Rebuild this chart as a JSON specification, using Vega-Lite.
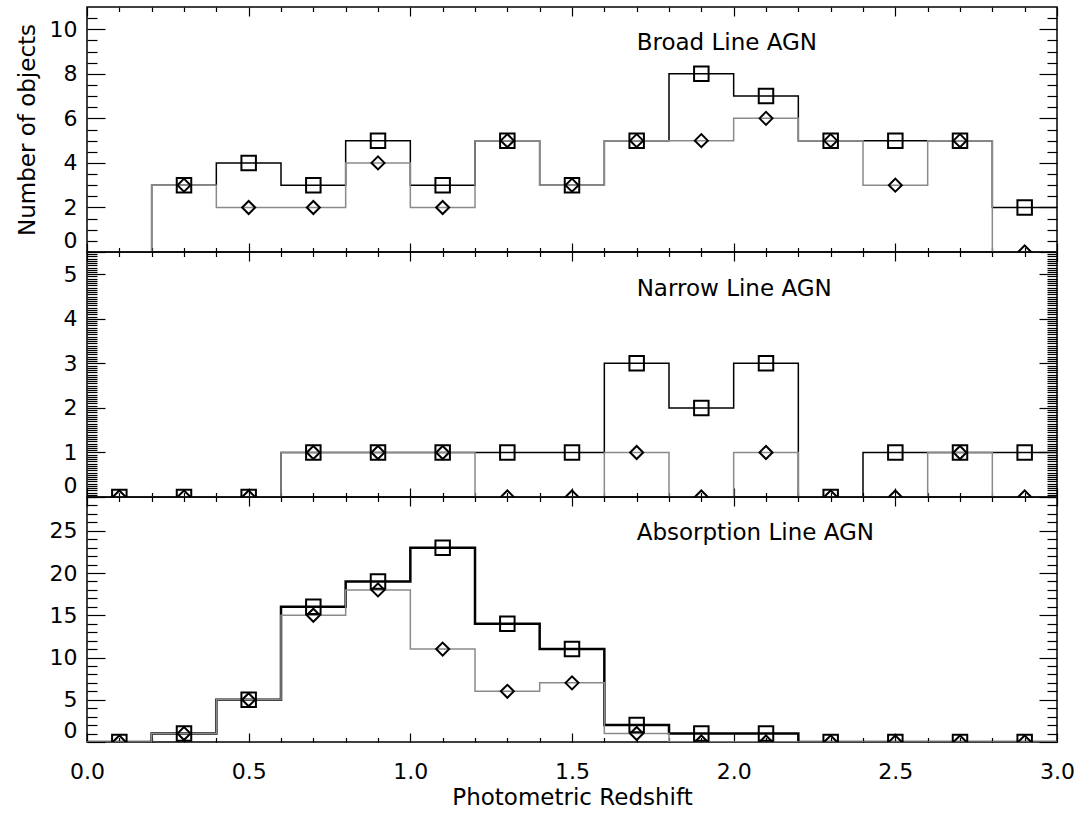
{
  "$schema": "https://vega.github.io/schema/vega-lite/v6.json",
  "padding": {"left": 15, "top": 5, "right": 10, "bottom": 2},
  "background": "white",
  "config": {
    "view": {"stroke": "black", "strokeWidth": 1.5},
    "axis": {
      "grid": false, "domain": false, "tickColor": "black", "tickWidth": 1.2,
      "labelFont": "DejaVu Sans", "labelFontSize": 22, "labelFontWeight": 400, "labelColor": "black",
      "titleFont": "DejaVu Sans", "titleFontSize": 23, "titleFontWeight": 400, "titleColor": "black",
      "labelOverlap": false
    }
  },
  "datasets": {
    "broad": [
      {"lo": 0.0, "hi": 0.2, "z": 0.1, "all": 0, "sub": 0},
      {"lo": 0.2, "hi": 0.4, "z": 0.3, "all": 3, "sub": 3},
      {"lo": 0.4, "hi": 0.6, "z": 0.5, "all": 4, "sub": 2},
      {"lo": 0.6, "hi": 0.8, "z": 0.7, "all": 3, "sub": 2},
      {"lo": 0.8, "hi": 1.0, "z": 0.9, "all": 5, "sub": 4},
      {"lo": 1.0, "hi": 1.2, "z": 1.1, "all": 3, "sub": 2},
      {"lo": 1.2, "hi": 1.4, "z": 1.3, "all": 5, "sub": 5},
      {"lo": 1.4, "hi": 1.6, "z": 1.5, "all": 3, "sub": 3},
      {"lo": 1.6, "hi": 1.8, "z": 1.7, "all": 5, "sub": 5},
      {"lo": 1.8, "hi": 2.0, "z": 1.9, "all": 8, "sub": 5},
      {"lo": 2.0, "hi": 2.2, "z": 2.1, "all": 7, "sub": 6},
      {"lo": 2.2, "hi": 2.4, "z": 2.3, "all": 5, "sub": 5},
      {"lo": 2.4, "hi": 2.6, "z": 2.5, "all": 5, "sub": 3},
      {"lo": 2.6, "hi": 2.8, "z": 2.7, "all": 5, "sub": 5},
      {"lo": 2.8, "hi": 3.0, "z": 2.9, "all": 2, "sub": 0}
    ],
    "narrow": [
      {"lo": 0.0, "hi": 0.2, "z": 0.1, "all": 0, "sub": 0},
      {"lo": 0.2, "hi": 0.4, "z": 0.3, "all": 0, "sub": 0},
      {"lo": 0.4, "hi": 0.6, "z": 0.5, "all": 0, "sub": 0},
      {"lo": 0.6, "hi": 0.8, "z": 0.7, "all": 1, "sub": 1},
      {"lo": 0.8, "hi": 1.0, "z": 0.9, "all": 1, "sub": 1},
      {"lo": 1.0, "hi": 1.2, "z": 1.1, "all": 1, "sub": 1},
      {"lo": 1.2, "hi": 1.4, "z": 1.3, "all": 1, "sub": 0},
      {"lo": 1.4, "hi": 1.6, "z": 1.5, "all": 1, "sub": 0},
      {"lo": 1.6, "hi": 1.8, "z": 1.7, "all": 3, "sub": 1},
      {"lo": 1.8, "hi": 2.0, "z": 1.9, "all": 2, "sub": 0},
      {"lo": 2.0, "hi": 2.2, "z": 2.1, "all": 3, "sub": 1},
      {"lo": 2.2, "hi": 2.4, "z": 2.3, "all": 0, "sub": 0},
      {"lo": 2.4, "hi": 2.6, "z": 2.5, "all": 1, "sub": 0},
      {"lo": 2.6, "hi": 2.8, "z": 2.7, "all": 1, "sub": 1},
      {"lo": 2.8, "hi": 3.0, "z": 2.9, "all": 1, "sub": 0}
    ],
    "absorption": [
      {"lo": 0.0, "hi": 0.2, "z": 0.1, "all": 0, "sub": 0},
      {"lo": 0.2, "hi": 0.4, "z": 0.3, "all": 1, "sub": 1},
      {"lo": 0.4, "hi": 0.6, "z": 0.5, "all": 5, "sub": 5},
      {"lo": 0.6, "hi": 0.8, "z": 0.7, "all": 16, "sub": 15},
      {"lo": 0.8, "hi": 1.0, "z": 0.9, "all": 19, "sub": 18},
      {"lo": 1.0, "hi": 1.2, "z": 1.1, "all": 23, "sub": 11},
      {"lo": 1.2, "hi": 1.4, "z": 1.3, "all": 14, "sub": 6},
      {"lo": 1.4, "hi": 1.6, "z": 1.5, "all": 11, "sub": 7},
      {"lo": 1.6, "hi": 1.8, "z": 1.7, "all": 2, "sub": 1},
      {"lo": 1.8, "hi": 2.0, "z": 1.9, "all": 1, "sub": 0},
      {"lo": 2.0, "hi": 2.2, "z": 2.1, "all": 1, "sub": 0},
      {"lo": 2.2, "hi": 2.4, "z": 2.3, "all": 0, "sub": 0},
      {"lo": 2.4, "hi": 2.6, "z": 2.5, "all": 0, "sub": 0},
      {"lo": 2.6, "hi": 2.8, "z": 2.7, "all": 0, "sub": 0},
      {"lo": 2.8, "hi": 3.0, "z": 2.9, "all": 0, "sub": 0}
    ]
  },
  "spacing": 0,
  "bounds": "flush",
  "vconcat": [
    {
      "width": 970, "height": 245,
      "data": {"name": "broad"},
      "resolve": {"axis": {"x": "independent", "y": "independent"}},
      "layer": [
        {
          "transform": [{"fold": ["lo", "hi"], "as": ["edge", "zx"]}],
          "mark": {"type": "line", "color": "black", "strokeWidth": 1.5, "clip": true},
          "encoding": {
            "x": {"field": "zx", "type": "quantitative", "scale": {"domain": [0, 3], "nice": false},
                  "axis": {"orient": "bottom", "values": [0, 0.5, 1, 1.5, 2, 2.5, 3], "tickSize": -9, "labels": false, "title": null}},
            "y": {"field": "all", "type": "quantitative", "scale": {"domain": [0, 11], "nice": false, "zero": false},
                  "axis": {"orient": "left", "values": [0, 2, 4, 6, 8, 10], "tickSize": -18, "labelPadding": 28, "labelFlush": 1, "title": "Number of objects", "titlePadding": 10}},
            "order": [{"field": "zx", "type": "quantitative"}, {"field": "edge", "type": "nominal"}]
          }
        },
        {
          "transform": [{"fold": ["lo", "hi"], "as": ["edge", "zx"]}],
          "mark": {"type": "line", "color": "#8a8a8a", "strokeWidth": 1.5, "clip": true},
          "encoding": {
            "x": {"field": "zx", "type": "quantitative",
                  "axis": {"orient": "top", "values": [0, 0.5, 1, 1.5, 2, 2.5, 3], "tickSize": -9, "labels": false, "title": null}},
            "y": {"field": "sub", "type": "quantitative",
                  "axis": {"orient": "right", "values": [0, 2, 4, 6, 8, 10], "tickSize": -18, "labels": false, "title": null}},
            "order": [{"field": "zx", "type": "quantitative"}, {"field": "edge", "type": "nominal"}]
          }
        },
        {
          "transform": [{"filter": "datum.z > 0.2"}],
          "mark": {"type": "point", "shape": "diamond", "size": 170, "filled": false, "color": "black", "strokeWidth": 2, "clip": true, "opacity": 1},
          "encoding": {
            "x": {"field": "z", "type": "quantitative",
                  "axis": {"orient": "bottom", "values": [0.1,0.2,0.3,0.4,0.6,0.7,0.8,0.9,1.1,1.2,1.3,1.4,1.6,1.7,1.8,1.9,2.1,2.2,2.3,2.4,2.6,2.7,2.8,2.9], "tickSize": -4.5, "labels": false, "title": null}},
            "y": {"field": "sub", "type": "quantitative",
                  "axis": {"orient": "left", "values": [0.5,1,1.5,2.5,3,3.5,4.5,5,5.5,6.5,7,7.5,8.5,9,9.5,10.5], "tickSize": -10, "labels": false, "title": null}}
          }
        },
        {
          "transform": [{"filter": "datum.z > 0.2"}],
          "mark": {"type": "point", "shape": "square", "size": 210, "filled": false, "color": "black", "strokeWidth": 2, "clip": true, "opacity": 1},
          "encoding": {
            "x": {"field": "z", "type": "quantitative",
                  "axis": {"orient": "top", "values": [0.1,0.2,0.3,0.4,0.6,0.7,0.8,0.9,1.1,1.2,1.3,1.4,1.6,1.7,1.8,1.9,2.1,2.2,2.3,2.4,2.6,2.7,2.8,2.9], "tickSize": -4.5, "labels": false, "title": null}},
            "y": {"field": "all", "type": "quantitative",
                  "axis": {"orient": "right", "values": [0.5,1,1.5,2.5,3,3.5,4.5,5,5.5,6.5,7,7.5,8.5,9,9.5,10.5], "tickSize": -10, "labels": false, "title": null}}
          }
        },
        {
          "data": {"values": [{"label": "Broad Line AGN"}]},
          "mark": {"type": "text", "align": "left", "baseline": "middle", "font": "DejaVu Sans", "fontSize": 23, "fontWeight": 400, "color": "black"},
          "encoding": {
            "x": {"datum": 1.70, "type": "quantitative", "axis": null},
            "y": {"datum": 9.4, "type": "quantitative", "axis": null},
            "text": {"field": "label"}
          }
        }
      ]
    },
    {
      "width": 970, "height": 245,
      "data": {"name": "narrow"},
      "resolve": {"axis": {"x": "independent", "y": "independent"}},
      "layer": [
        {
          "transform": [{"fold": ["lo", "hi"], "as": ["edge", "zx"]}],
          "mark": {"type": "line", "color": "black", "strokeWidth": 1.5, "clip": true},
          "encoding": {
            "x": {"field": "zx", "type": "quantitative", "scale": {"domain": [0, 3], "nice": false},
                  "axis": {"orient": "bottom", "values": [0, 0.5, 1, 1.5, 2, 2.5, 3], "tickSize": -9, "labels": false, "title": null}},
            "y": {"field": "all", "type": "quantitative", "scale": {"domain": [0, 5.5], "nice": false, "zero": false},
                  "axis": {"orient": "left", "values": [0, 1, 2, 3, 4, 5], "tickSize": -18, "labelPadding": 28, "labelFlush": 1, "title": null}},
            "order": [{"field": "zx", "type": "quantitative"}, {"field": "edge", "type": "nominal"}]
          }
        },
        {
          "transform": [{"fold": ["lo", "hi"], "as": ["edge", "zx"]}],
          "mark": {"type": "line", "color": "#8a8a8a", "strokeWidth": 1.5, "clip": true},
          "encoding": {
            "x": {"field": "zx", "type": "quantitative",
                  "axis": {"orient": "top", "values": [0, 0.5, 1, 1.5, 2, 2.5, 3], "tickSize": -9, "labels": false, "title": null}},
            "y": {"field": "sub", "type": "quantitative",
                  "axis": {"orient": "right", "values": [0, 1, 2, 3, 4, 5], "tickSize": -18, "labels": false, "title": null}},
            "order": [{"field": "zx", "type": "quantitative"}, {"field": "edge", "type": "nominal"}]
          }
        },
        {
          "mark": {"type": "point", "shape": "diamond", "size": 170, "filled": false, "color": "black", "strokeWidth": 2, "clip": true, "opacity": 1},
          "encoding": {
            "x": {"field": "z", "type": "quantitative",
                  "axis": {"orient": "bottom", "values": [0.1,0.2,0.3,0.4,0.6,0.7,0.8,0.9,1.1,1.2,1.3,1.4,1.6,1.7,1.8,1.9,2.1,2.2,2.3,2.4,2.6,2.7,2.8,2.9], "tickSize": -4.5, "labels": false, "title": null}},
            "y": {"field": "sub", "type": "quantitative",
                  "axis": {"orient": "left", "values": [0.05,0.1,0.15,0.2,0.25,0.3,0.35,0.4,0.45,0.5,0.55,0.6,0.65,0.7,0.75,0.8,0.85,0.9,0.95,1.05,1.1,1.15,1.2,1.25,1.3,1.35,1.4,1.45,1.5,1.55,1.6,1.65,1.7,1.75,1.8,1.85,1.9,1.95,2.05,2.1,2.15,2.2,2.25,2.3,2.35,2.4,2.45,2.5,2.55,2.6,2.65,2.7,2.75,2.8,2.85,2.9,2.95,3.05,3.1,3.15,3.2,3.25,3.3,3.35,3.4,3.45,3.5,3.55,3.6,3.65,3.7,3.75,3.8,3.85,3.9,3.95,4.05,4.1,4.15,4.2,4.25,4.3,4.35,4.4,4.45,4.5,4.55,4.6,4.65,4.7,4.75,4.8,4.85,4.9,4.95,5.05,5.1,5.15,5.2,5.25,5.3,5.35,5.4,5.45], "tickSize": -10, "labels": false, "title": null}}
          }
        },
        {
          "mark": {"type": "point", "shape": "square", "size": 210, "filled": false, "color": "black", "strokeWidth": 2, "clip": true, "opacity": 1},
          "encoding": {
            "x": {"field": "z", "type": "quantitative",
                  "axis": {"orient": "top", "values": [0.1,0.2,0.3,0.4,0.6,0.7,0.8,0.9,1.1,1.2,1.3,1.4,1.6,1.7,1.8,1.9,2.1,2.2,2.3,2.4,2.6,2.7,2.8,2.9], "tickSize": -4.5, "labels": false, "title": null}},
            "y": {"field": "all", "type": "quantitative",
                  "axis": {"orient": "right", "values": [0.05,0.1,0.15,0.2,0.25,0.3,0.35,0.4,0.45,0.5,0.55,0.6,0.65,0.7,0.75,0.8,0.85,0.9,0.95,1.05,1.1,1.15,1.2,1.25,1.3,1.35,1.4,1.45,1.5,1.55,1.6,1.65,1.7,1.75,1.8,1.85,1.9,1.95,2.05,2.1,2.15,2.2,2.25,2.3,2.35,2.4,2.45,2.5,2.55,2.6,2.65,2.7,2.75,2.8,2.85,2.9,2.95,3.05,3.1,3.15,3.2,3.25,3.3,3.35,3.4,3.45,3.5,3.55,3.6,3.65,3.7,3.75,3.8,3.85,3.9,3.95,4.05,4.1,4.15,4.2,4.25,4.3,4.35,4.4,4.45,4.5,4.55,4.6,4.65,4.7,4.75,4.8,4.85,4.9,4.95,5.05,5.1,5.15,5.2,5.25,5.3,5.35,5.4,5.45], "tickSize": -10, "labels": false, "title": null}}
          }
        },
        {
          "data": {"values": [{"label": "Narrow Line AGN"}]},
          "mark": {"type": "text", "align": "left", "baseline": "middle", "font": "DejaVu Sans", "fontSize": 23, "fontWeight": 400, "color": "black"},
          "encoding": {
            "x": {"datum": 1.70, "type": "quantitative", "axis": null},
            "y": {"datum": 4.68, "type": "quantitative", "axis": null},
            "text": {"field": "label"}
          }
        }
      ]
    },
    {
      "width": 970, "height": 245,
      "data": {"name": "absorption"},
      "resolve": {"axis": {"x": "independent", "y": "independent"}},
      "layer": [
        {
          "transform": [{"fold": ["lo", "hi"], "as": ["edge", "zx"]}],
          "mark": {"type": "line", "color": "black", "strokeWidth": 2.5, "clip": true},
          "encoding": {
            "x": {"field": "zx", "type": "quantitative", "scale": {"domain": [0, 3], "nice": false},
                  "axis": {"orient": "bottom", "values": [0, 0.5, 1, 1.5, 2, 2.5, 3], "tickSize": -9, "labels": true, "labelPadding": 28, "labelFlush": false, "format": ".1f", "title": "Photometric Redshift", "titlePadding": 4}},
            "y": {"field": "all", "type": "quantitative", "scale": {"domain": [0, 29], "nice": false, "zero": false},
                  "axis": {"orient": "left", "values": [0, 5, 10, 15, 20, 25], "tickSize": -18, "labelPadding": 28, "labelFlush": 1, "title": null}},
            "order": [{"field": "zx", "type": "quantitative"}, {"field": "edge", "type": "nominal"}]
          }
        },
        {
          "transform": [{"fold": ["lo", "hi"], "as": ["edge", "zx"]}],
          "mark": {"type": "line", "color": "#8a8a8a", "strokeWidth": 1.5, "clip": true},
          "encoding": {
            "x": {"field": "zx", "type": "quantitative",
                  "axis": {"orient": "top", "values": [0, 0.5, 1, 1.5, 2, 2.5, 3], "tickSize": -9, "labels": false, "title": null}},
            "y": {"field": "sub", "type": "quantitative",
                  "axis": {"orient": "right", "values": [0, 5, 10, 15, 20, 25], "tickSize": -18, "labels": false, "title": null}},
            "order": [{"field": "zx", "type": "quantitative"}, {"field": "edge", "type": "nominal"}]
          }
        },
        {
          "mark": {"type": "point", "shape": "diamond", "size": 170, "filled": false, "color": "black", "strokeWidth": 2, "clip": true, "opacity": 1},
          "encoding": {
            "x": {"field": "z", "type": "quantitative",
                  "axis": {"orient": "bottom", "values": [0.1,0.2,0.3,0.4,0.6,0.7,0.8,0.9,1.1,1.2,1.3,1.4,1.6,1.7,1.8,1.9,2.1,2.2,2.3,2.4,2.6,2.7,2.8,2.9], "tickSize": -4.5, "labels": false, "title": null}},
            "y": {"field": "sub", "type": "quantitative",
                  "axis": {"orient": "left", "values": [1,2,3,4,6,7,8,9,11,12,13,14,16,17,18,19,21,22,23,24,26,27,28,29], "tickSize": -10, "labels": false, "title": null}}
          }
        },
        {
          "mark": {"type": "point", "shape": "square", "size": 210, "filled": false, "color": "black", "strokeWidth": 2, "clip": true, "opacity": 1},
          "encoding": {
            "x": {"field": "z", "type": "quantitative",
                  "axis": {"orient": "top", "values": [0.1,0.2,0.3,0.4,0.6,0.7,0.8,0.9,1.1,1.2,1.3,1.4,1.6,1.7,1.8,1.9,2.1,2.2,2.3,2.4,2.6,2.7,2.8,2.9], "tickSize": -4.5, "labels": false, "title": null}},
            "y": {"field": "all", "type": "quantitative",
                  "axis": {"orient": "right", "values": [1,2,3,4,6,7,8,9,11,12,13,14,16,17,18,19,21,22,23,24,26,27,28,29], "tickSize": -10, "labels": false, "title": null}}
          }
        },
        {
          "data": {"values": [{"label": "Absorption Line AGN"}]},
          "mark": {"type": "text", "align": "left", "baseline": "middle", "font": "DejaVu Sans", "fontSize": 23, "fontWeight": 400, "color": "black"},
          "encoding": {
            "x": {"datum": 1.70, "type": "quantitative", "axis": null},
            "y": {"datum": 24.74, "type": "quantitative", "axis": null},
            "text": {"field": "label"}
          }
        }
      ]
    }
  ]
}
